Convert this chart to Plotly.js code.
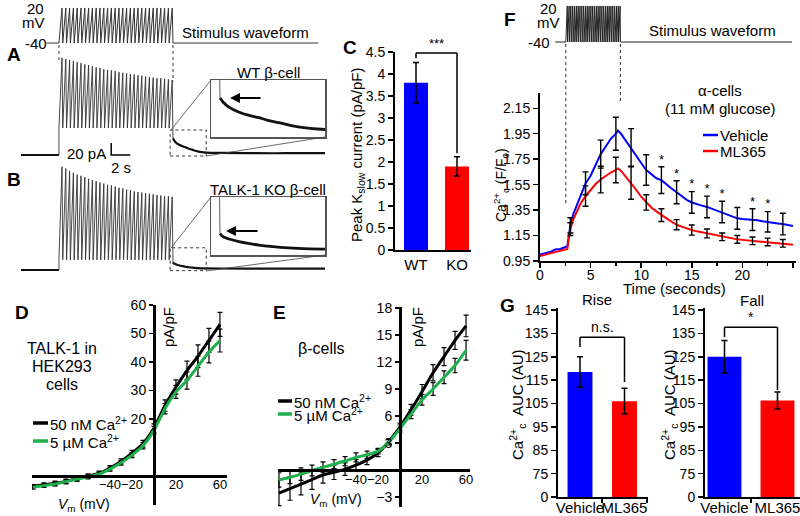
<!DOCTYPE html>
<html><head><meta charset="utf-8">
<script src="https://cdn.plot.ly/plotly-3.0.1.min.js"></script>
<style>html,body{margin:0;padding:0;background:#fff}#chart{width:800px;height:516px}</style>
</head><body><div id="chart"></div>
<script>
// ================= DATA =================
// Panels A/B: ramp stimulus protocol and whole-cell currents (pA, time in s)
const rampCount = 30;
const rampPeriod = 0.4;
const riseFrac = 0.8;
const stimBase = -40, stimPeak = 20;
const stimStart = -1.3, stimEnd = 27.3;
const preStart = -4.0;
const wtPeaks = [162,160,158,157,155,153,151,150,148,146,145,143,142,141,140,138,137,136,135,134,133,132,131,130,129,128,128,127,126,125];
const wtTrough = 45;
const koPeaks = [172,169,165,162,159,157,155,152,150,148,146,144,142,141,139,137,136,134,133,131,130,129,128,127,126,125,124,123,123,122];
const koTrough = 17;
const tailTime = [0, 0.1, 0.3, 0.6, 1.0, 1.3, 1.6, 2.0, 2.6, 3.5, 5, 8, 12, 16];
const wtTail = [28, 25, 21, 17.5, 14.5, 13, 11, 9, 6, 4, 3.5, 3, 3, 3];
const koTail = [13, 11, 9.5, 8, 6.5, 5.5, 4.8, 4, 3.3, 2.8, 2.5, 2.3, 2.2, 2.2];
const scaleBarPA = 20, scaleBarS = 2, scaleBarT0 = 5.5;
const insetT = [11.7, 15.5];
const wtInsetI = [-1.7, 41.7];
const koInsetI = [-1, 37];

// Panel C
const cCats = ['WT', 'KO'];
const cVals = [3.8, 1.9];
const cErr = [0.46, 0.22];

// Panels D/E: I-V relations (mV, pA/pF)
const ivV = [-110,-100,-90,-80,-70,-60,-50,-40,-30,-20,-10,0,10,20,30,40,50,60];
const dBlack = [-3.6,-3.1,-2.6,-1.9,-0.9,-0.1,0.9,2.8,5.1,8.0,11.3,16.8,24.7,31.2,37.0,42.0,47.6,53.2];
const dBlackErr = [0.6,0.7,0.8,0.8,0.8,0.8,0.8,0.8,0.9,1.0,1.2,1.5,2.0,2.5,3.3,4.0,4.2,4.2];
const dGreen = [-4.0,-3.4,-2.8,-2.0,-1.1,-0.3,0.6,2.4,4.6,7.3,10.6,16.0,23.6,29.5,33.5,38.5,43.5,47.5];
const dGreenErr = [0.6,0.6,0.7,0.7,0.7,0.7,0.7,0.7,0.8,0.9,1.1,1.4,1.8,2.3,3.0,3.5,3.8,4.0];
const eBlack = [-2.55,-2.05,-1.55,-1.05,-0.55,-0.25,0.1,0.55,1.1,1.9,3.2,4.8,6.7,8.7,10.8,12.6,14.4,16.0];
const eBlackErr = [1.4,1.3,1.2,1.1,0.9,0.8,0.7,0.6,0.5,0.4,0.3,0.4,0.6,0.8,0.9,1.0,1.0,1.2];
const eGreen = [-1.1,-0.8,-0.45,-0.05,0.3,0.65,1.0,1.4,1.7,2.1,3.1,4.6,6.2,7.8,9.0,10.3,11.6,13.3];
const eGreenErr = [0.8,0.7,0.7,0.6,0.6,0.5,0.5,0.5,0.4,0.3,0.3,0.4,0.5,0.6,0.7,0.7,0.8,1.1];
const dTicksX = [-40,-20,20,60];
const dTicksY = [20,30,40,50,60];
const eTicksY = [-3,3,6,9,12,15,18];

// Panel F: stimulus and Ca2+ traces
const fRampCount = 30;
const fStimStart = 1.5, fRampStart = 2.55, fRampEnd = 7.95, fStimEnd = 24.9;
const fTime = [0,0.5,1,1.5,2,2.5,2.7,2.8,3.0,3.3,3.7,4.0,4.5,5.0,5.5,6.0,6.5,7.0,7.5,7.7,8.0,8.5,9.0,9.5,10.0,10.5,11.0,11.5,12.0,12.5,13.0,13.5,14.0,14.5,15.0,15.5,16.0,16.5,17.0,17.5,18.0,18.5,19.0,19.5,20.0,20.5,21.0,21.5,22.0,22.5,23.0,23.5,24.0,24.5,25.0];
const fVehicle = [1.00,1.01,1.02,1.04,1.045,1.06,1.065,1.12,1.23,1.32,1.40,1.47,1.56,1.62,1.70,1.79,1.85,1.91,1.95,1.975,1.95,1.89,1.84,1.78,1.72,1.665,1.63,1.60,1.585,1.55,1.52,1.49,1.46,1.43,1.41,1.395,1.385,1.375,1.36,1.345,1.335,1.32,1.30,1.285,1.28,1.278,1.275,1.27,1.262,1.258,1.25,1.245,1.24,1.232,1.225];
const fML365 = [0.99,1.0,1.01,1.02,1.03,1.04,1.045,1.1,1.2,1.28,1.35,1.40,1.46,1.51,1.555,1.59,1.62,1.645,1.665,1.677,1.66,1.61,1.565,1.51,1.455,1.41,1.37,1.34,1.31,1.285,1.26,1.235,1.22,1.205,1.193,1.183,1.175,1.167,1.158,1.148,1.14,1.133,1.126,1.12,1.116,1.112,1.109,1.106,1.103,1.1,1.096,1.092,1.089,1.083,1.077];
const fErrTime = [3,4.5,6,7.5,9,10.5,12,13.5,15,16.5,18,19.5,21,22.5,24];
const vehMean = [1.23,1.56,1.79,1.95,1.84,1.665,1.585,1.49,1.41,1.375,1.335,1.285,1.275,1.258,1.24];
const vehErr = [0.06,0.09,0.11,0.13,0.15,0.12,0.105,0.09,0.085,0.085,0.085,0.085,0.085,0.08,0.085];
const mlMean = [1.2,1.46,1.59,1.665,1.565,1.41,1.31,1.235,1.193,1.167,1.14,1.12,1.109,1.1,1.089];
const mlErr = [0.05,0.08,0.105,0.1,0.13,0.06,0.05,0.04,0.04,0.035,0.03,0.03,0.03,0.03,0.03];
const starTimes = [12,13.5,15,16.5,18,21,22.5];

// Panel G
const gCats = ['Vehicle', 'ML365'];
const riseVals = [118.5, 106];
const riseErr = [6.5, 5.5];
const fallVals = [125, 106.3];
const fallErr = [7, 3.6];
const gTickVals = [65,75,85,95,105,115,125,135,145];
const gTickText = ['0','75','85','95','105','115','125','135','145'];

// ================= BUILD =================
const W = 800, H = 516;
const FONT = 'Arial, "Liberation Sans", Helvetica, sans-serif';
const BLUE = '#0000FF', RED = '#FF0000', GREEN = '#1FAF4B';
const dx = (a, b) => [a / W, b / W];
const dy = (top, bottom) => [1 - bottom / H, 1 - top / H];
const PX = x => x / W, PY = y => 1 - y / H;

function rampTrace(start, period, peaks, low, endVal) {
  const t = [start], v = [0];
  for (let i = 0; i < peaks.length; i++) {
    const t0 = start + i * period;
    t.push(t0); v.push(low);
    t.push(t0 + riseFrac * period); v.push(peaks[i]);
  }
  t.push(start + peaks.length * period); v.push(endVal);
  return {t, v};
}
function stimTrace(s0, r0, period, n, s1) {
  const t = [s0], v = [stimBase];
  for (let i = 0; i < n; i++) {
    const t0 = r0 + i * period;
    t.push(t0); v.push(stimBase);
    t.push(t0 + riseFrac * period); v.push(stimPeak);
  }
  t.push(r0 + n * period); v.push(stimBase);
  t.push(s1); v.push(stimBase);
  return {t, v};
}
const rampEnd = rampCount * rampPeriod;
const wtR = rampTrace(0, rampPeriod, wtPeaks, wtTrough, wtTail[0]);
const koR = rampTrace(0, rampPeriod, koPeaks, koTrough, koTail[0]);
const tailT = tailTime.map(d => rampEnd + d);
const stimA = stimTrace(stimStart, 0, rampPeriod, rampCount, stimEnd);
const fPeriod = (fRampEnd - fRampStart) / fRampCount;
const stimF = stimTrace(fStimStart, fRampStart, fPeriod, fRampCount, fStimEnd);
const starY = starTimes.map(t => { const i = fErrTime.indexOf(t); return vehMean[i] + vehErr[i]; });

const K = '#111';
const traces = [];
// A
traces.push({x: stimA.t, y: stimA.v, xaxis: 'x5', yaxis: 'y5', mode: 'lines', line: {color: '#333', width: 1}});
traces.push({x: [preStart, 0], y: [0, 0], xaxis: 'x', yaxis: 'y', mode: 'lines', line: {color: K, width: 2}});
traces.push({x: wtR.t, y: wtR.v, xaxis: 'x', yaxis: 'y', mode: 'lines', line: {color: '#333', width: 0.9}});
traces.push({x: tailT, y: wtTail, xaxis: 'x', yaxis: 'y', mode: 'lines', line: {color: K, width: 2.2, shape: 'spline'}});
traces.push({x: [scaleBarT0, scaleBarT0, scaleBarT0 + scaleBarS], y: [scaleBarPA, 0, 0], xaxis: 'x', yaxis: 'y', mode: 'lines', line: {color: '#000', width: 1.5}});
traces.push({x: wtR.t, y: wtR.v, xaxis: 'x2', yaxis: 'y2', mode: 'lines', line: {color: '#777', width: 1.2}});
traces.push({x: tailT, y: wtTail, xaxis: 'x2', yaxis: 'y2', mode: 'lines', line: {color: K, width: 2.8, shape: 'spline'}});
// B
traces.push({x: [preStart, 0], y: [0, 0], xaxis: 'x3', yaxis: 'y3', mode: 'lines', line: {color: K, width: 2}});
traces.push({x: koR.t, y: koR.v, xaxis: 'x3', yaxis: 'y3', mode: 'lines', line: {color: '#333', width: 0.9}});
traces.push({x: tailT, y: koTail, xaxis: 'x3', yaxis: 'y3', mode: 'lines', line: {color: K, width: 2.2, shape: 'spline'}});
traces.push({x: koR.t, y: koR.v, xaxis: 'x4', yaxis: 'y4', mode: 'lines', line: {color: '#777', width: 1.2}});
traces.push({x: tailT, y: koTail, xaxis: 'x4', yaxis: 'y4', mode: 'lines', line: {color: K, width: 2.8, shape: 'spline'}});
// C
traces.push({type: 'bar', x: cCats, y: cVals, xaxis: 'x6', yaxis: 'y6', width: 0.585,
  marker: {color: [BLUE, RED], line: {width: 0}},
  error_y: {type: 'data', array: cErr, color: '#000', thickness: 1.5, width: 3}});
// D
const ivErr = (arr) => ({type: 'data', array: arr, color: '#000', thickness: 1.2, width: 2.5});
traces.push({x: ivV, y: dBlack, xaxis: 'x7', yaxis: 'y7', mode: 'lines', line: {color: '#000', width: 3, shape: 'spline', smoothing: 0.6}, error_y: ivErr(dBlackErr)});
traces.push({x: ivV, y: dGreen, xaxis: 'x7', yaxis: 'y7', mode: 'lines', line: {color: GREEN, width: 3, shape: 'spline', smoothing: 0.6}, error_y: ivErr(dGreenErr)});
// E
traces.push({x: ivV, y: eBlack, xaxis: 'x8', yaxis: 'y8', mode: 'lines', line: {color: '#000', width: 3, shape: 'spline', smoothing: 0.6}, error_y: ivErr(eBlackErr)});
traces.push({x: ivV, y: eGreen, xaxis: 'x8', yaxis: 'y8', mode: 'lines', line: {color: GREEN, width: 3, shape: 'spline', smoothing: 0.6}, error_y: ivErr(eGreenErr)});
// F
traces.push({x: stimF.t, y: stimF.v, xaxis: 'x9', yaxis: 'y9', mode: 'lines', line: {color: '#222', width: 1}});
traces.push({x: fTime, y: fVehicle, xaxis: 'x10', yaxis: 'y10', mode: 'lines', line: {color: BLUE, width: 2}});
traces.push({x: fTime, y: fML365, xaxis: 'x10', yaxis: 'y10', mode: 'lines', line: {color: RED, width: 2}});
const fErrStyle = (arr) => ({type: 'data', array: arr, color: '#000', thickness: 1.4, width: 3});
traces.push({x: fErrTime, y: vehMean, xaxis: 'x10', yaxis: 'y10', mode: 'markers', marker: {size: 2, color: 'rgba(0,0,0,0)'}, error_y: fErrStyle(vehErr)});
traces.push({x: fErrTime, y: mlMean, xaxis: 'x10', yaxis: 'y10', mode: 'markers', marker: {size: 2, color: 'rgba(0,0,0,0)'}, error_y: fErrStyle(mlErr)});
traces.push({x: starTimes, y: starY, xaxis: 'x10', yaxis: 'y10', mode: 'text', text: starTimes.map(() => '*'), textposition: 'top center', textfont: {family: FONT, size: 13, color: '#000'}});
// G
const gErr = (arr) => ({type: 'data', array: arr, color: '#000', thickness: 1.5, width: 3});
traces.push({type: 'bar', x: gCats, y: riseVals, xaxis: 'x11', yaxis: 'y11', width: 0.56, marker: {color: [BLUE, RED], line: {width: 0}}, error_y: gErr(riseErr)});
traces.push({type: 'bar', x: gCats, y: fallVals, xaxis: 'x12', yaxis: 'y12', width: 0.64, marker: {color: [BLUE, RED], line: {width: 0}}, error_y: gErr(fallErr)});

// ================= LAYOUT =================
const tf = (s) => ({family: FONT, size: s || 14, color: '#000'});
function ax(o) {
  return Object.assign({showgrid: false, zeroline: false, showline: true, linecolor: '#000', linewidth: 2,
    ticks: 'outside', ticklen: 5, tickwidth: 1.5, tickcolor: '#000', tickfont: tf(14), fixedrange: true}, o);
}
function hid(o) { return Object.assign({visible: false, showgrid: false, zeroline: false, fixedrange: true}, o); }
function ins(o) {
  return Object.assign({showline: true, mirror: true, linecolor: '#555', linewidth: 1.5, ticks: '', showticklabels: false,
    showgrid: false, zeroline: false, fixedrange: true}, o);
}
const aRange = [-4.1, 28.0];

const layout = {
  width: W, height: H, margin: {l: 0, r: 0, t: 0, b: 0}, showlegend: false,
  paper_bgcolor: '#fff', plot_bgcolor: 'rgba(0,0,0,0)', font: tf(14),
  xaxis: hid({domain: dx(20, 325), range: aRange, anchor: 'y'}),
  yaxis: hid({domain: dy(50, 160), range: [-8.3, 175], anchor: 'x'}),
  xaxis2: ins({domain: dx(211, 325), range: insetT, anchor: 'y2'}),
  yaxis2: ins({domain: dy(80, 137), range: wtInsetI, anchor: 'x2'}),
  xaxis3: hid({domain: dx(20, 325), range: aRange, anchor: 'y3'}),
  yaxis3: hid({domain: dy(160, 275), range: [-8.3, 183.3], anchor: 'x3'}),
  xaxis4: ins({domain: dx(211, 325), range: insetT, anchor: 'y4'}),
  yaxis4: ins({domain: dy(197, 255), range: koInsetI, anchor: 'x4'}),
  xaxis5: hid({domain: dx(20, 325), range: aRange, anchor: 'y5'}),
  yaxis5: hid({domain: dy(5, 46), range: [-45.1, 25.1], anchor: 'x5'}),
  xaxis6: ax({domain: dx(395, 471), range: [-0.512, 1.341], type: 'category', ticks: '', anchor: 'y6', tickfont: tf(15), tickangle: 0}),
  yaxis6: ax({domain: dy(52, 250), range: [0, 4.5], tick0: 0, dtick: 0.5, anchor: 'x6'}),
  xaxis7: ax({domain: dx(32, 227), range: [-110.9, 66.4], anchor: 'free', position: PY(476), tickvals: dTicksX, linewidth: 2.5, ticks: '', tickangle: 0, ticklabelstandoff: -4, tickfont: tf(13)}),
  yaxis7: ax({domain: dy(305, 505), range: [-10.2, 60], anchor: 'free', position: PX(154), tickvals: dTicksY, linewidth: 2.5, ticklen: 4}),
  xaxis8: ax({domain: dx(278, 470), range: [-110.9, 63.6], anchor: 'free', position: PY(470), tickvals: dTicksX, linewidth: 2.5, ticks: '', tickangle: 0, ticklabelstandoff: -3, tickfont: tf(13)}),
  yaxis8: ax({domain: dy(307, 507), range: [-4.1, 18.1], anchor: 'free', position: PX(400), tickvals: eTicksY, linewidth: 2.5, ticklen: 4}),
  xaxis9: hid({domain: dx(540, 796), range: [0, 25.3], anchor: 'y9'}),
  yaxis9: hid({domain: dy(4, 45), range: [-45, 23.3], anchor: 'x9'}),
  xaxis10: ax({domain: dx(540, 796), range: [0, 25.3], tick0: 0, dtick: 5, anchor: 'y10', ticklabelstandoff: -5, tickangle: 0,
    minor: {dtick: 2.5, ticks: 'outside', ticklen: 3, tickcolor: '#000'}}),
  yaxis10: ax({domain: dy(93, 261), range: [0.95, 2.27], tick0: 0.95, dtick: 0.2, tickformat: '.2f', anchor: 'x10'}),
  xaxis11: ax({domain: dx(558, 648), range: [-0.494, 1.528], type: 'category', tickson: 'boundaries', ticklen: 4, anchor: 'y11', tickfont: tf(15), tickangle: 0, ticklabelstandoff: -4}),
  yaxis11: ax({domain: dy(308, 497), range: [65, 145.9], tickvals: gTickVals, ticktext: gTickText, anchor: 'x11'}),
  xaxis12: ax({domain: dx(705, 800), range: [-0.368, 1.425], type: 'category', tickson: 'boundaries', ticklen: 4, anchor: 'y12', tickfont: tf(15), tickangle: 0, ticklabelstandoff: -4}),
  yaxis12: ax({domain: dy(308, 497), range: [65, 145.9], tickvals: gTickVals, ticktext: gTickText, anchor: 'x12'}),
};

const dot = {dash: 'dot', width: 1, color: '#333'};
const thin = {width: 0.8, color: '#444'};
const blk = {width: 1.5, color: '#000'};
const pline = (x0, y0, x1, y1, line) => ({type: 'line', xref: 'paper', yref: 'paper', x0: PX(x0), y0: PY(y0), x1: PX(x1), y1: PY(y1), line});
const bracket = (xr, yr, yL, yTop, yR) => [
  {type: 'line', xref: xr, yref: yr, x0: 0, x1: 0, y0: yL, y1: yTop, line: blk},
  {type: 'line', xref: xr, yref: yr, x0: 0, x1: 1, y0: yTop, y1: yTop, line: blk},
  {type: 'line', xref: xr, yref: yr, x0: 1, x1: 1, y0: yTop, y1: yR, line: blk}];

layout.shapes = [
  {type: 'line', xref: 'x', yref: 'paper', x0: 0, x1: 0, y0: PY(45), y1: PY(62), line: dot},
  {type: 'line', xref: 'x', yref: 'paper', x0: rampEnd, x1: rampEnd, y0: PY(45), y1: PY(82), line: dot},
  {type: 'rect', xref: 'x', yref: 'y', x0: insetT[0], x1: insetT[1], y0: wtInsetI[0], y1: wtInsetI[1], line: dot},
  {type: 'rect', xref: 'x3', yref: 'y3', x0: insetT[0], x1: insetT[1], y0: koInsetI[0], y1: koInsetI[1], line: dot},
  pline(171, 130, 211, 80, thin), pline(206, 156, 325, 137, thin),
  pline(171, 248, 211, 197, thin), pline(206, 271, 325, 255, thin),
  {type: 'line', xref: 'x10', yref: 'paper', x0: fRampStart, x1: fRampStart, y0: PY(44), y1: PY(203), line: dot},
  {type: 'line', xref: 'x10', yref: 'paper', x0: fRampEnd, x1: fRampEnd, y0: PY(44), y1: PY(102), line: dot},
  ...bracket('x6', 'y6', 4.36, 4.48, 2.2),
  ...bracket('x11', 'y11', 129.2, 133.4, 114.2),
  ...bracket('x12', 'y12', 133.4, 137.7, 110.8),
  pline(33, 423, 48, 423, {width: 3.5, color: '#000'}),
  pline(33, 441, 48, 441, {width: 3.5, color: GREEN}),
  pline(278, 401, 292, 401, {width: 3.5, color: '#000'}),
  pline(278, 414, 292, 414, {width: 3.5, color: GREEN}),
  pline(703, 135, 718, 135, {width: 2.5, color: BLUE}),
  pline(703, 151, 718, 151, {width: 2.5, color: RED}),
];

const ann = (text, x, y, o) => Object.assign({text, x: PX(x), y: PY(y), xref: 'paper', yref: 'paper', showarrow: false,
  xanchor: 'center', yanchor: 'middle', font: tf(15)}, o || {});
const lab = (t, x, y) => ann('<b>' + t + '</b>', x, y, {font: tf(19)});
const rot = (t, x, y, s) => ann(t, x, y, {textangle: -90, font: tf(s || 15)});

layout.annotations = [
  lab('A', 14, 55), lab('B', 14, 180), lab('C', 350, 48), lab('D', 22, 312), lab('E', 279, 312), lab('F', 510, 20), lab('G', 507, 305),
  // A / B
  ann('20', 35, 8), ann('mV', 33, 23), ann('-40', 36, 43),
  ann('Stimulus waveform', 245, 32),
  ann('WT β-cell', 268, 72),
  ann('TALK-1 KO β-cell', 268, 189),
  ann('20 pA', 108, 153, {xanchor: 'right'}),
  ann('2 s', 121, 167),
  {x: PX(230), y: PY(98), xref: 'paper', yref: 'paper', ax: 32, ay: 0, showarrow: true, arrowhead: 2, arrowsize: 1, arrowwidth: 2, arrowcolor: '#000', text: ''},
  {x: PX(226), y: PY(231), xref: 'paper', yref: 'paper', ax: 33, ay: 0, showarrow: true, arrowhead: 2, arrowsize: 1, arrowwidth: 2, arrowcolor: '#000', text: ''},
  // C
  rot('Peak K<sub>slow</sub> current (pA/pF)', 357, 155),
  {text: '***', x: 0.5, y: 4.48, xref: 'x6', yref: 'y6', showarrow: false, yanchor: 'bottom', font: tf(13)},
  // D
  ann('TALK-1 in', 62, 348, {font: tf(16)}), ann('HEK293', 62, 366, {font: tf(16)}), ann('cells', 62, 384, {font: tf(16)}),
  ann('50 nM Ca<sup>2+</sup>', 48, 423, {xanchor: 'left'}),
  ann('5 µM Ca<sup>2+</sup>', 48, 441, {xanchor: 'left'}),
  rot('pA/pF', 168, 327),
  ann('<i>V</i><sub>m</sub> (mV)', 84, 505, {font: tf(14)}),
  // E
  ann('β-cells', 321, 348, {font: tf(16)}),
  ann('50 nM Ca<sup>2+</sup>', 292, 401, {xanchor: 'left'}),
  ann('5 µM Ca<sup>2+</sup>', 292, 414, {xanchor: 'left'}),
  rot('pA/pF', 417, 327),
  ann('<i>V</i><sub>m</sub> (mV)', 336, 500, {font: tf(14)}),
  // F
  ann('20', 548, 8), ann('mV', 548, 23), ann('-40', 539, 42),
  ann('Stimulus waveform', 712, 31),
  ann('α-cells', 720, 91), ann('(11 mM glucose)', 720, 108),
  ann('Vehicle', 718, 135, {xanchor: 'left'}), ann('ML365', 718, 151, {xanchor: 'left'}),
  ann('Time (seconds)', 674, 288),
  rot('Ca<sup>2+</sup><sub>c</sub> (F/F<sub>0</sub>)', 501, 185, 14),
  // G
  ann('Rise', 597, 299), ann('Fall', 752, 300),
  rot('Ca<sup>2+</sup><sub>c</sub>  AUC (AU)', 517, 405),
  rot('Ca<sup>2+</sup><sub>c</sub>  AUC (AU)', 669, 405),
  {text: 'n.s.', x: 0.5, y: 133.4, xref: 'x11', yref: 'y11', showarrow: false, yanchor: 'bottom', font: tf(14)},
  {text: '*', x: 0.5, y: 137.7, xref: 'x12', yref: 'y12', showarrow: false, yanchor: 'bottom', font: tf(14)},
];

Plotly.newPlot('chart', traces, layout, {displayModeBar: false, staticPlot: true});
</script>
</body></html>
